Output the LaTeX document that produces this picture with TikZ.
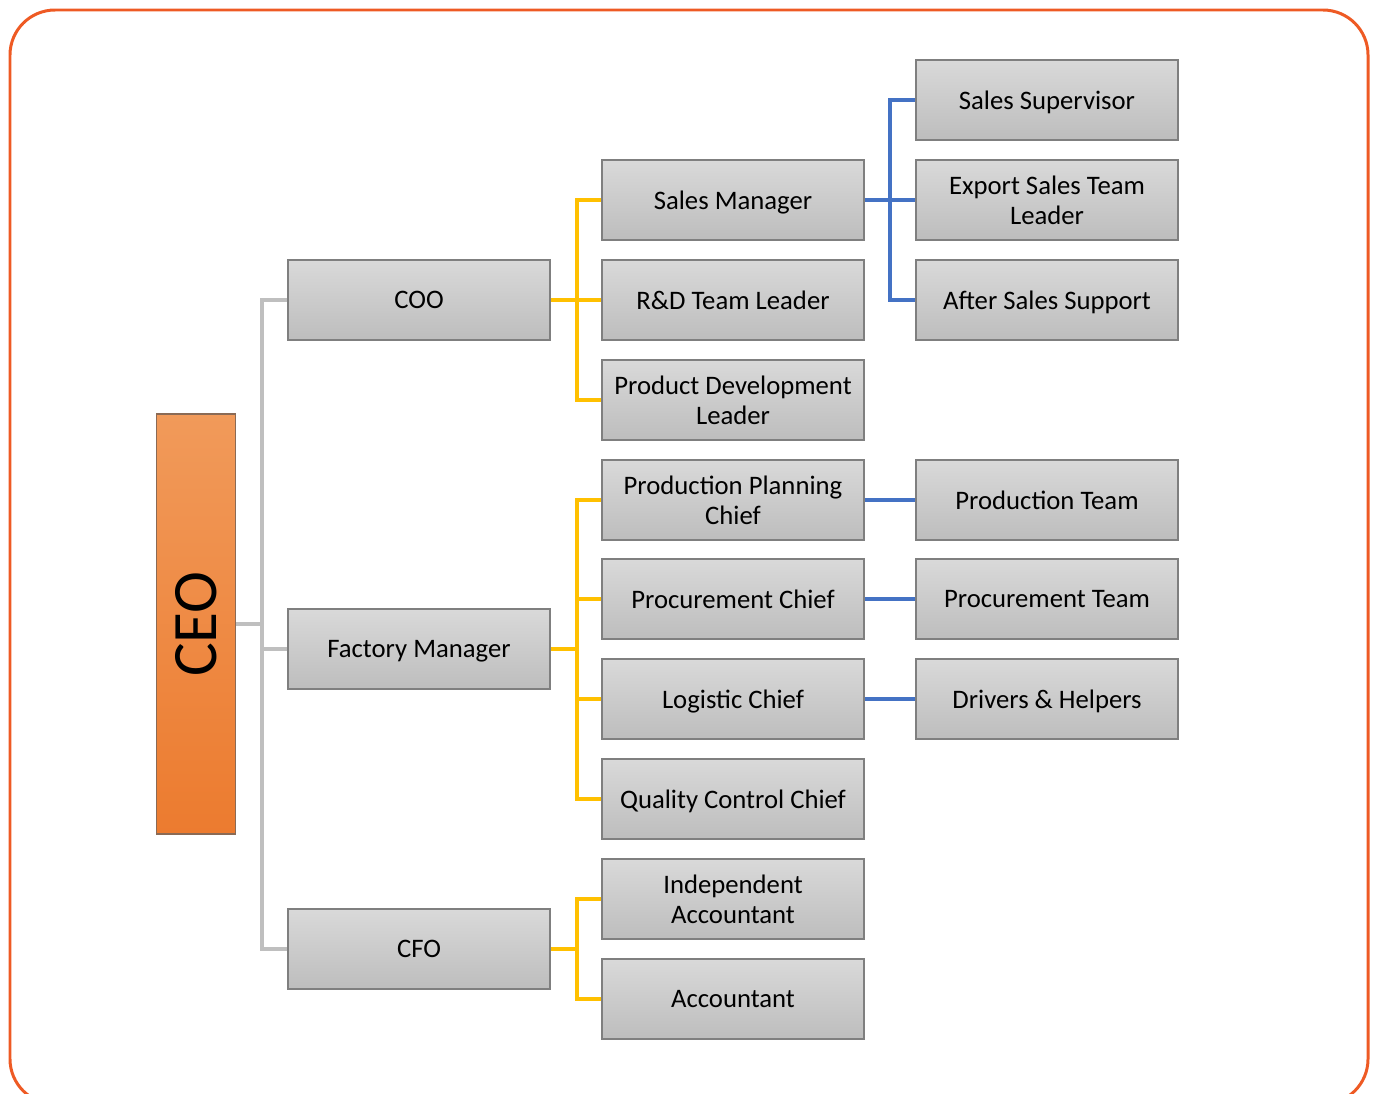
\documentclass[tikz,border=0pt]{standalone}
\usepackage{fontspec}
\setmainfont{Carlito}
\definecolor{frame}{HTML}{EE5A24}
\definecolor{conngray}{HTML}{BFBFBF}
\definecolor{connyel}{HTML}{FFC000}
\definecolor{connblue}{HTML}{4472C4}
\definecolor{boxtop}{HTML}{D9D9D9}
\definecolor{boxbot}{HTML}{BDBDBD}
\definecolor{boxline}{HTML}{7F7F7F}
\definecolor{ceotop}{HTML}{F19A5A}
\definecolor{ceobot}{HTML}{EC7B2F}
\definecolor{ceoline}{HTML}{8A6A55}
\tikzset{
  ebox/.style={draw=boxline, line width=1.1pt, top color=boxtop, bottom color=boxbot,
    minimum width=5.24cm, minimum height=1.6cm, inner sep=0pt, align=center,
    font=\fontsize{15.2}{17}\selectfont, text depth=0pt},
  gline/.style={draw=conngray, line width=1.9pt},
  yline/.style={draw=connyel, line width=1.9pt},
  bline/.style={draw=connblue, line width=1.9pt},
}
\begin{document}
\begin{tikzpicture}[x=0.02cm,y=-0.02cm]
\useasboundingbox (0,0) rectangle (1375,1093);
\draw[frame, line width=1.7pt, rounded corners=0.9cm] (10,10) rectangle (1368,1104);
% CEO
\node[draw=ceoline, line width=1.1pt, top color=ceotop, bottom color=ceobot,
  minimum width=1.58cm, minimum height=8.4cm, inner sep=0pt] (ceo) at (196,624) {};
\node[rotate=90, font=\fontsize{36}{40}\selectfont] (ceotext) at (196,624) {CEO};
% level 1
\node[ebox] (coo) at (419,300) {COO};
\node[ebox] (fm) at (419,649) {Factory Manager};
\node[ebox] (cfo) at (419,949) {CFO};
% level 2
\node[ebox] (sm) at (733,200) {Sales Manager};
\node[ebox] (rd) at (733,300) {R\&D Team Leader};
\node[ebox] (pd) at (733,400) {Product Development\\Leader};
\node[ebox] (pp) at (733,500) {Production Planning\\Chief};
\node[ebox] (pc) at (733,599) {Procurement Chief};
\node[ebox] (lc) at (733,699) {Logistic Chief};
\node[ebox] (qc) at (733,799) {Quality Control Chief};
\node[ebox] (ia) at (733,899) {Independent\\Accountant};
\node[ebox] (ac) at (733,999) {Accountant};
% level 3
\node[ebox] (ss) at (1047,100) {Sales Supervisor};
\node[ebox] (es) at (1047,200) {Export Sales Team\\Leader};
\node[ebox] (as) at (1047,300) {After Sales Support};
\node[ebox] (pt) at (1047,500) {Production Team};
\node[ebox] (pr) at (1047,599) {Procurement Team};
\node[ebox] (dh) at (1047,699) {Drivers \& Helpers};
% junctions
\coordinate (j0) at (262,624);
\coordinate (j1) at (577,300);
\coordinate (j2) at (577,649);
\coordinate (j3) at (577,949);
\coordinate (j4) at (890,200);
% gray connectors
\draw[gline] (ceo.east) -- (j0);
\draw[gline] (coo.west) -| (j0);
\draw[gline] (fm.west) -| (j0);
\draw[gline] (cfo.west) -| (j0);
% yellow connectors
\draw[yline] (coo.east) -- (j1);
\draw[yline] (sm.west) -| (j1);
\draw[yline] (rd.west) -- (j1);
\draw[yline] (pd.west) -| (j1);
\draw[yline] (fm.east) -- (j2);
\draw[yline] (pp.west) -| (j2);
\draw[yline] (pc.west) -| (j2);
\draw[yline] (lc.west) -| (j2);
\draw[yline] (qc.west) -| (j2);
\draw[yline] (cfo.east) -- (j3);
\draw[yline] (ia.west) -| (j3);
\draw[yline] (ac.west) -| (j3);
% blue connectors
\draw[bline] (sm.east) -- (j4);
\draw[bline] (ss.west) -| (j4);
\draw[bline] (es.west) -- (j4);
\draw[bline] (as.west) -| (j4);
\draw[bline] (pp.east) -- (pt.west);
\draw[bline] (pc.east) -- (pr.west);
\draw[bline] (lc.east) -- (dh.west);
\end{tikzpicture}
\end{document}
